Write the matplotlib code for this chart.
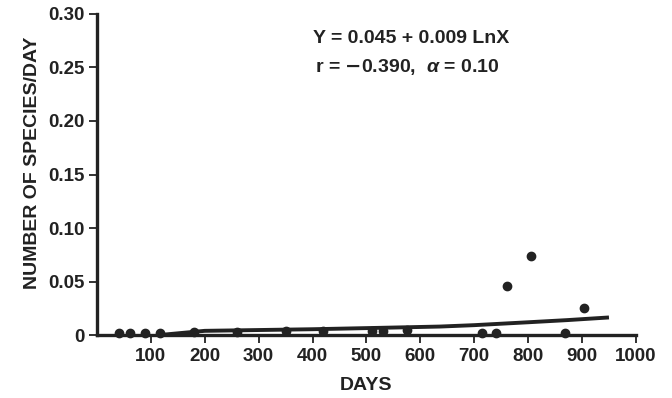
import matplotlib.pyplot as plt
import numpy as np

plt.rcParams['font.family'] = ['Liberation Sans', 'DejaVu Sans']
plt.rcParams['font.weight'] = 'bold'
plt.rcParams['mathtext.fontset'] = 'custom'
plt.rcParams['mathtext.it'] = 'Liberation Sans:italic'

# observed points (days, species/day)
days = [40, 62, 90, 117, 180, 260, 350, 420, 510, 530, 575, 715, 740, 760, 805, 868, 903]
rate = [0.002, 0.002, 0.002, 0.002, 0.003, 0.003, 0.004, 0.004, 0.004, 0.004, 0.005,
        0.002, 0.002, 0.046, 0.074, 0.002, 0.025]

# fitted line as drawn
fit_days = [125, 200, 400, 525, 636, 700, 800, 872, 950]
fit_rate = [0.0005, 0.004, 0.0055, 0.0068, 0.008, 0.0093, 0.012, 0.014, 0.0165]

xticks = [100, 200, 300, 400, 500, 600, 700, 800, 900, 1000]
yticks = [0, 0.05, 0.10, 0.15, 0.20, 0.25, 0.30]
ylabels = ['0', '0.05', '0.10', '0.15', '0.20', '0.25', '0.30']

fig = plt.figure(figsize=(6.72, 3.98), dpi=100)
ax = fig.add_axes([0.1443, 0.158, 0.802, 0.807])

ax.plot(fit_days, fit_rate, color='#222222', lw=2.8, solid_capstyle='butt', zorder=3)
ax.scatter(days, rate, s=36, color='#222222', zorder=4, clip_on=False)

ax.set_xlim(0, 1000)
ax.set_ylim(0, 0.30)
ax.set_xticks(xticks)
ax.set_xticklabels([str(t) for t in xticks])
ax.set_yticks(yticks)
ax.set_yticklabels(ylabels)

for s in ['top', 'right']:
    ax.spines[s].set_visible(False)
for s in ['left', 'bottom']:
    ax.spines[s].set_linewidth(2.4)
    ax.spines[s].set_color('#222222')

ax.tick_params(axis='both', direction='out', length=6, width=1.3, color='#222222',
               labelsize=13.5, labelcolor='#222222', pad=3)
for lab in ax.get_xticklabels() + ax.get_yticklabels():
    lab.set_fontweight('bold')

ax.set_xlabel('DAYS', fontsize=14, fontweight='bold', color='#222222', labelpad=9)
ax.set_ylabel('NUMBER OF SPECIES/DAY', fontsize=14, fontweight='bold', color='#222222')
ax.yaxis.set_label_coords(-0.104, 0.535)

ax.text(0.583, 0.925, 'Y = 0.045 + 0.009 LnX', transform=ax.transAxes, ha='center', va='center',
        fontsize=14, fontweight='bold', color='#222222')
ax.text(0.575, 0.835, r'r = $-$0.390,  $\alpha$ = 0.10', transform=ax.transAxes, ha='center', va='center',
        fontsize=14, fontweight='bold', color='#222222')

fig.savefig('out.png', dpi=100)
